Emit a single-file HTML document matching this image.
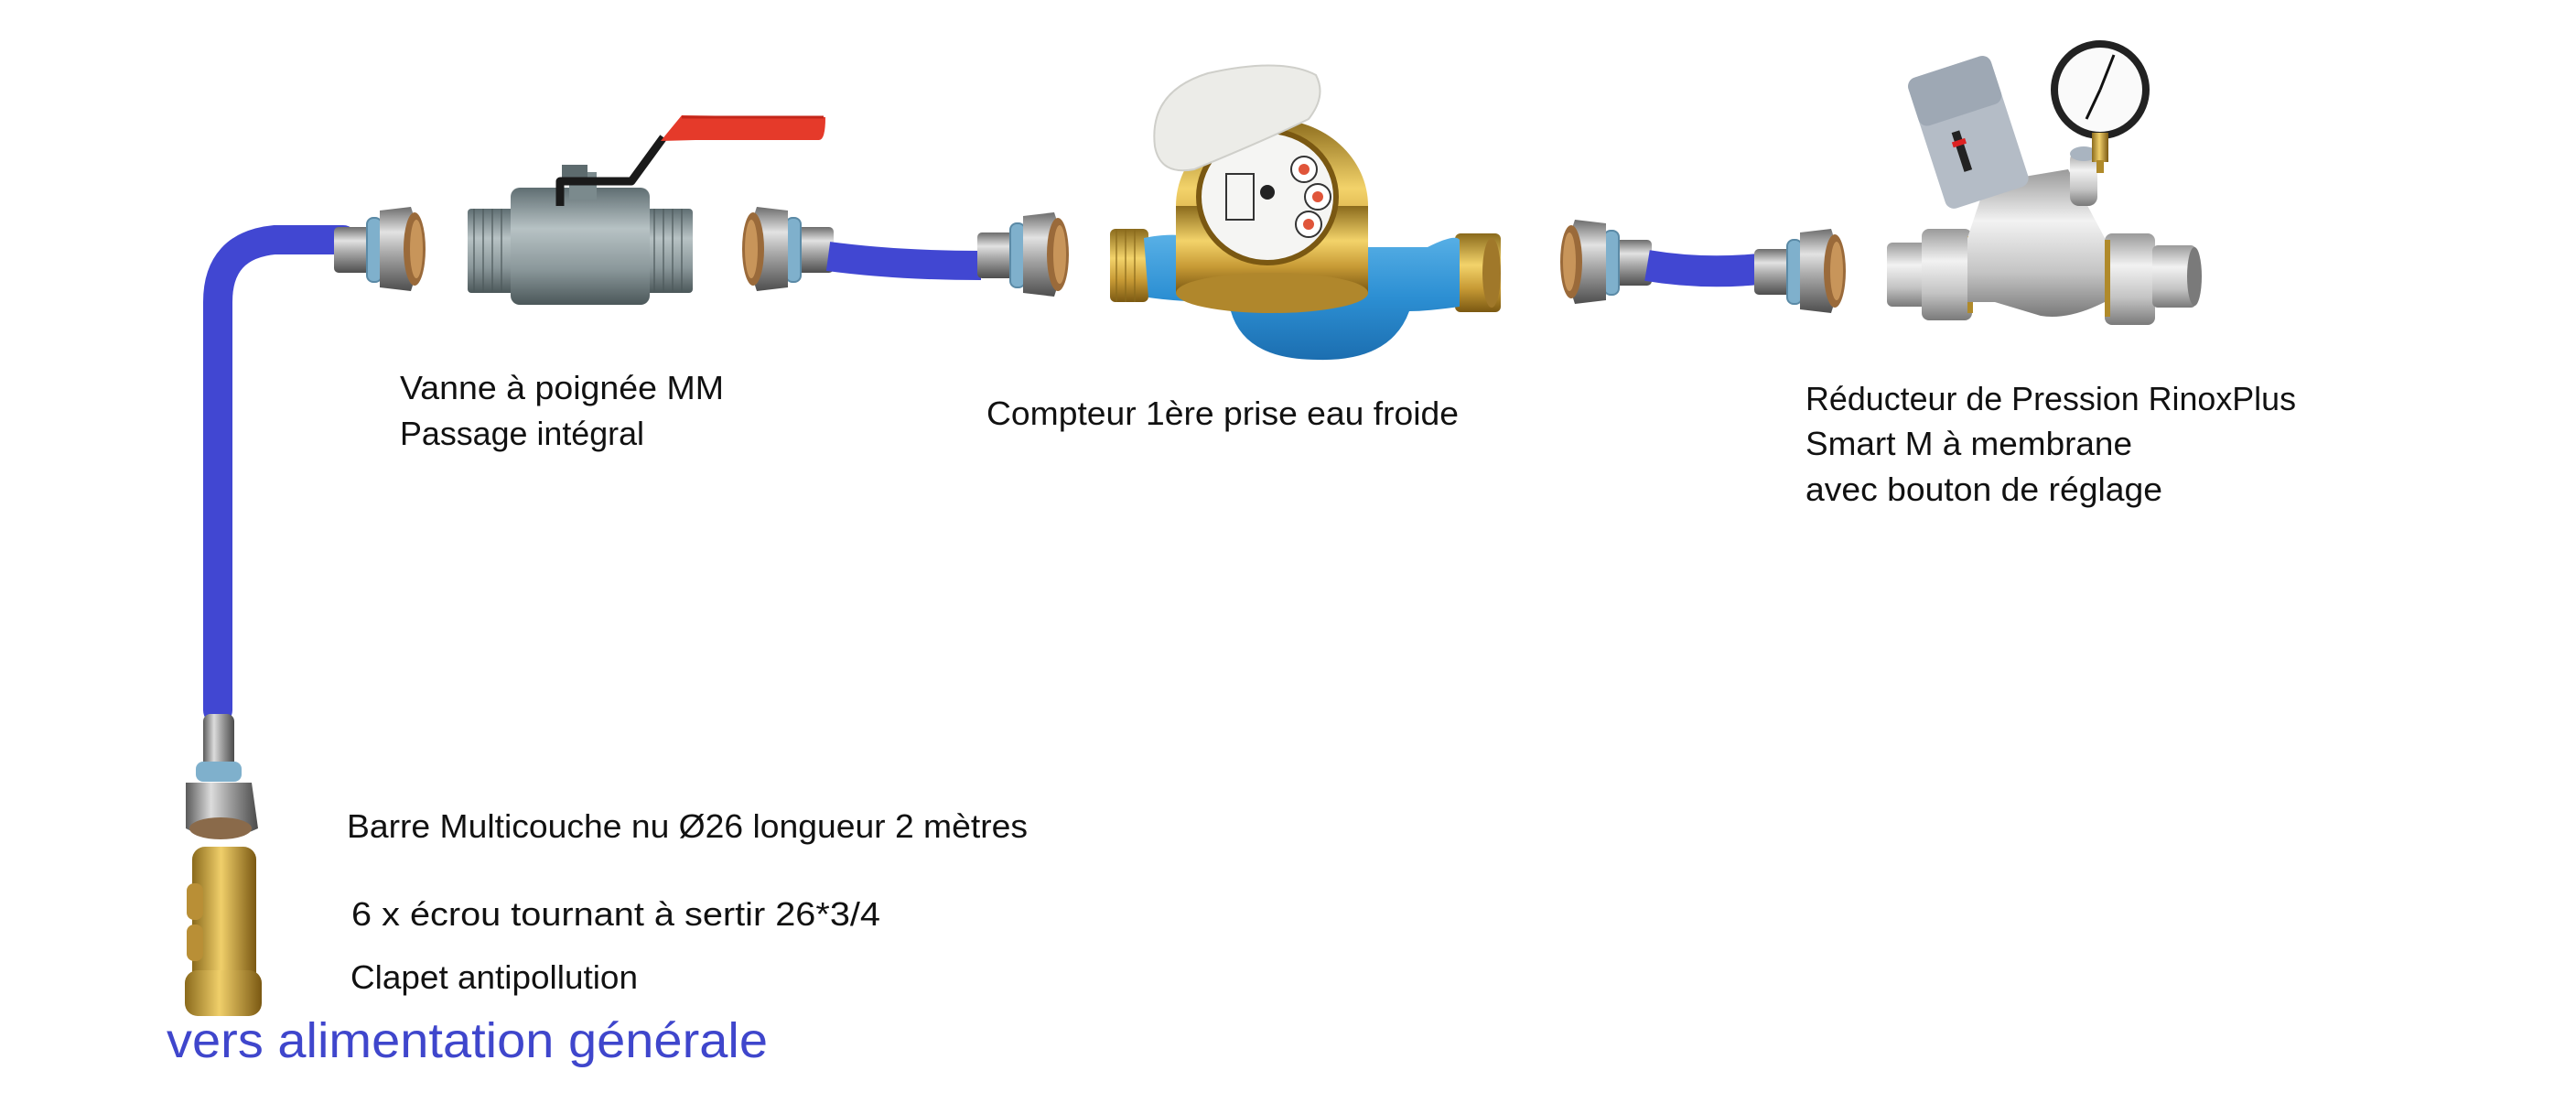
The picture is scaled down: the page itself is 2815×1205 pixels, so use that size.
<!DOCTYPE html>
<html><head><meta charset="utf-8">
<style>
html,body{margin:0;padding:0;background:#fff;}
svg{display:block;}
text{font-family:"Liberation Sans",sans-serif;fill:#111;}
</style></head>
<body>
<svg width="2815" height="1205" viewBox="0 0 2815 1205" xmlns="http://www.w3.org/2000/svg">
<defs>
<linearGradient id="metal" x1="0" y1="0" x2="0" y2="1">
<stop offset="0" stop-color="#6d6d6d"/><stop offset="0.3" stop-color="#e2e2e2"/><stop offset="0.55" stop-color="#a9a9a9"/><stop offset="1" stop-color="#4e4e4e"/></linearGradient>
<linearGradient id="metalH" x1="0" y1="0" x2="1" y2="0">
<stop offset="0" stop-color="#5a5a5a"/><stop offset="0.35" stop-color="#dcdcdc"/><stop offset="0.6" stop-color="#a0a0a0"/><stop offset="1" stop-color="#4a4a4a"/></linearGradient>
<linearGradient id="valve" x1="0" y1="0" x2="0" y2="1">
<stop offset="0" stop-color="#5f6e72"/><stop offset="0.35" stop-color="#b7c2c4"/><stop offset="0.7" stop-color="#8a979a"/><stop offset="1" stop-color="#4b5759"/></linearGradient>
<linearGradient id="brass" x1="0" y1="0" x2="0" y2="1">
<stop offset="0" stop-color="#8a6a1c"/><stop offset="0.4" stop-color="#f3d36a"/><stop offset="0.7" stop-color="#c79a35"/><stop offset="1" stop-color="#7a5812"/></linearGradient>
<linearGradient id="brassH" x1="0" y1="0" x2="1" y2="0">
<stop offset="0" stop-color="#8a6a1c"/><stop offset="0.45" stop-color="#f0cf6a"/><stop offset="1" stop-color="#7a5812"/></linearGradient>
<linearGradient id="blue" x1="0" y1="0" x2="0" y2="1">
<stop offset="0" stop-color="#58b0e6"/><stop offset="0.5" stop-color="#2c8fd3"/><stop offset="1" stop-color="#1c6eb0"/></linearGradient>
<linearGradient id="chrome" x1="0" y1="0" x2="0" y2="1">
<stop offset="0" stop-color="#9a9a9a"/><stop offset="0.35" stop-color="#f2f2f2"/><stop offset="0.7" stop-color="#c4c4c4"/><stop offset="1" stop-color="#7a7a7a"/></linearGradient>
<g id="fit">
<rect x="0" y="22" width="40" height="50" rx="5" fill="url(#metal)"/>
<rect x="36" y="12" width="16" height="70" rx="7" fill="#7fb0cc" stroke="#5b8aa6" stroke-width="2"/>
<path d="M50 4 L84 0 Q100 45 84 92 L50 88 Z" fill="url(#metal)"/>
<ellipse cx="88" cy="46" rx="12" ry="40" fill="#9a6a3a"/>
<ellipse cx="90" cy="46" rx="7" ry="32" fill="#c8955a"/>
</g>
</defs>

<path d="M238 776 L238 330 Q238 268 300 262 L375 262" fill="none" stroke="#4147d2" stroke-width="32" stroke-linecap="round"/>
<use href="#fit" x="365" y="226"/>

<rect x="511" y="228" width="52" height="92" rx="4" fill="url(#valve)"/>
<rect x="705" y="228" width="52" height="92" rx="4" fill="url(#valve)"/>
<g stroke="#4d595b" stroke-width="2" opacity="0.6">
<line x1="518" y1="228" x2="518" y2="320"/><line x1="528" y1="228" x2="528" y2="320"/><line x1="538" y1="228" x2="538" y2="320"/><line x1="548" y1="228" x2="548" y2="320"/>
<line x1="715" y1="228" x2="715" y2="320"/><line x1="725" y1="228" x2="725" y2="320"/><line x1="735" y1="228" x2="735" y2="320"/><line x1="745" y1="228" x2="745" y2="320"/></g>
<rect x="558" y="205" width="152" height="128" rx="10" fill="url(#valve)"/>
<rect x="622" y="188" width="30" height="30" fill="#7b8a8d"/>
<rect x="614" y="180" width="28" height="20" fill="#5d6b6e"/>
<path d="M612 225 L612 198 L690 198 L725 150" fill="none" stroke="#1a1a1a" stroke-width="9" stroke-linejoin="round"/>
<path d="M722 154 L745 126 L902 128 Q902 153 895 153 L760 153 Z" fill="#e53a2a"/>
<path d="M745 128 L900 128" stroke="#c42619" stroke-width="3"/>

<use href="#fit" transform="translate(911,226) scale(-1,1)"/>
<path d="M905 280 Q980 290 1072 290" fill="none" stroke="#4147d2" stroke-width="32" stroke-linecap="butt"/>
<use href="#fit" x="1068" y="232"/>

<rect x="1213" y="250" width="42" height="80" rx="6" fill="url(#brass)"/>
<g stroke="#8a6a1c" stroke-width="2" opacity="0.6"><line x1="1220" y1="250" x2="1220" y2="330"/><line x1="1230" y1="250" x2="1230" y2="330"/><line x1="1240" y1="250" x2="1240" y2="330"/></g>
<rect x="1590" y="255" width="50" height="86" rx="6" fill="url(#brass)"/>
<ellipse cx="1630" cy="298" rx="10" ry="38" fill="#a0782a"/>
<path d="M1250 260 Q1300 250 1330 270 L1560 270 Q1590 255 1595 262 L1595 335 Q1560 340 1540 340 Q1520 395 1440 393 Q1360 393 1345 340 L1330 330 Q1290 330 1255 325 Z" fill="url(#blue)"/>
<ellipse cx="1390" cy="225" rx="105" ry="95" fill="url(#brass)"/>
<rect x="1285" y="225" width="210" height="95" fill="url(#brass)"/>
<ellipse cx="1390" cy="320" rx="105" ry="22" fill="#b0872c"/>
<ellipse cx="1385" cy="215" rx="75" ry="72" fill="#f5f5f3" stroke="#7a5812" stroke-width="6"/>
<circle cx="1425" cy="185" r="14" fill="#fff" stroke="#333" stroke-width="2"/><circle cx="1425" cy="185" r="6" fill="#e0553a"/>
<circle cx="1440" cy="215" r="14" fill="#fff" stroke="#333" stroke-width="2"/><circle cx="1440" cy="215" r="6" fill="#e0553a"/>
<circle cx="1430" cy="245" r="14" fill="#fff" stroke="#333" stroke-width="2"/><circle cx="1430" cy="245" r="6" fill="#e0553a"/>
<circle cx="1385" cy="210" r="8" fill="#222"/>
<rect x="1340" y="190" width="30" height="50" fill="none" stroke="#333" stroke-width="2"/>
<path d="M1262 160 Q1255 100 1320 80 Q1400 62 1438 82 Q1450 105 1430 130 Q1390 150 1305 185 Q1268 192 1262 160 Z" fill="#ecece8" stroke="#cfcfca" stroke-width="2"/>

<use href="#fit" transform="translate(1805,240) scale(-1,1)"/>
<path d="M1800 290 Q1860 300 1922 294" fill="none" stroke="#4147d2" stroke-width="34"/>
<use href="#fit" x="1917" y="250"/>

<rect x="2062" y="265" width="50" height="70" rx="6" fill="url(#chrome)"/>
<rect x="2100" y="250" width="55" height="100" rx="8" fill="url(#chrome)"/>
<rect x="2150" y="258" width="6" height="84" fill="#b08a2a"/>
<rect x="2300" y="255" width="55" height="100" rx="8" fill="url(#chrome)"/>
<rect x="2300" y="262" width="6" height="84" fill="#b08a2a"/>
<rect x="2352" y="268" width="48" height="68" rx="6" fill="url(#chrome)"/>
<ellipse cx="2398" cy="302" rx="8" ry="32" fill="#7a7a7a"/>
<path d="M2150 260 L2170 200 L2260 185 L2300 260 L2300 330 Q2260 350 2230 345 L2180 330 L2150 330 Z" fill="url(#chrome)"/>
<rect x="2262" y="165" width="30" height="60" rx="10" fill="url(#chrome)"/>
<ellipse cx="2277" cy="168" rx="15" ry="8" fill="#a9b4c0"/>
<g transform="rotate(-18 2150 150)">
<rect x="2105" y="70" width="95" height="150" rx="10" fill="#b4bcc6"/>
<rect x="2105" y="70" width="95" height="55" rx="10" fill="#9ea8b4"/>
<rect x="2135" y="140" width="9" height="45" fill="#222"/>
<rect x="2132" y="150" width="15" height="6" fill="#d22"/>
</g>
<circle cx="2295" cy="98" r="50" fill="#fafafa" stroke="#222" stroke-width="8"/>
<line x1="2295" y1="98" x2="2310" y2="60" stroke="#111" stroke-width="3"/>
<line x1="2295" y1="98" x2="2280" y2="130" stroke="#111" stroke-width="3"/>
<rect x="2286" y="145" width="18" height="32" fill="url(#brassH)"/>
<rect x="2291" y="175" width="8" height="14" fill="#b08a2a"/>

<rect x="222" y="780" width="34" height="72" rx="8" fill="url(#metalH)"/>
<rect x="214" y="832" width="50" height="22" rx="8" fill="#7fb0cc"/>
<path d="M203 855 L275 855 L282 905 Q240 925 203 905 Z" fill="url(#metalH)"/>
<ellipse cx="241" cy="905" rx="34" ry="12" fill="#8a6a4a"/>
<rect x="210" y="925" width="70" height="185" rx="14" fill="url(#brassH)"/>
<rect x="204" y="965" width="18" height="40" rx="8" fill="#b98f36"/>
<rect x="204" y="1010" width="18" height="40" rx="8" fill="#b98f36"/>
<rect x="202" y="1060" width="84" height="50" rx="14" fill="url(#brassH)"/>

<text x="437" y="436" font-size="36" textLength="354" lengthAdjust="spacingAndGlyphs">Vanne à poignée MM</text>
<text x="437" y="486" font-size="36" textLength="267" lengthAdjust="spacingAndGlyphs">Passage intégral</text>
<text x="1078" y="464" font-size="36" textLength="516" lengthAdjust="spacingAndGlyphs">Compteur 1ère prise eau froide</text>
<text x="1973" y="448" font-size="36" textLength="536" lengthAdjust="spacingAndGlyphs">Réducteur de Pression RinoxPlus</text>
<text x="1973" y="497" font-size="36" textLength="357" lengthAdjust="spacingAndGlyphs">Smart M à membrane</text>
<text x="1973" y="547" font-size="36" textLength="390" lengthAdjust="spacingAndGlyphs">avec bouton de réglage</text>
<text x="379" y="915" font-size="36" textLength="744" lengthAdjust="spacingAndGlyphs">Barre Multicouche nu Ø26 longueur 2 mètres</text>
<text x="384" y="1011" font-size="36" textLength="578" lengthAdjust="spacingAndGlyphs">6 x écrou tournant à sertir 26*3/4</text>
<text x="383" y="1080" font-size="36" textLength="314" lengthAdjust="spacingAndGlyphs">Clapet antipollution</text>
<text x="182" y="1155" font-size="54" textLength="657" lengthAdjust="spacingAndGlyphs" style="fill:#3f46cc">vers alimentation générale</text>
</svg>
</body></html>
